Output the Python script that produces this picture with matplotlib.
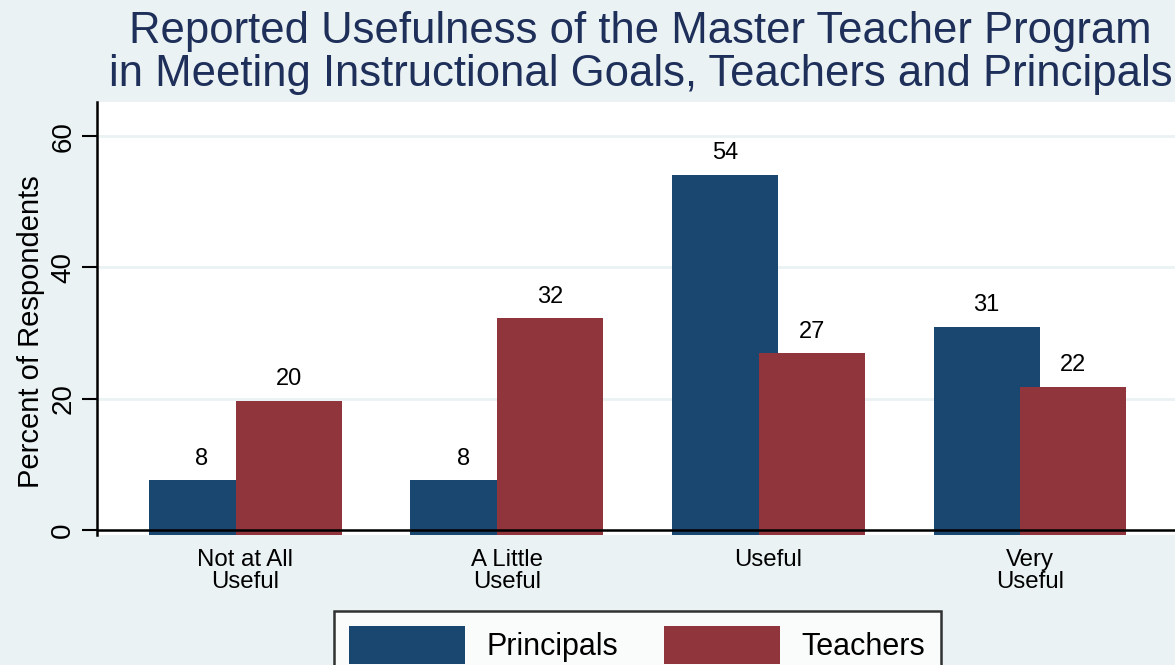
import numpy as np
import matplotlib
matplotlib.use("Agg")
import matplotlib.pyplot as plt

categories = ["Not at All\nUseful", "A Little\nUseful", "Useful", "Very\nUseful"]
principals = [7.6, 7.6, 54.1, 31.0]
teachers = [19.7, 32.3, 26.9, 21.8]
series_names = ["Principals", "Teachers"]
yticks = [0, 20, 40, 60]

navy = "#1a476f"
maroon = "#90353b"
bg = "#eaf2f3"

plt.rcParams["font.family"] = ["Liberation Sans", "DejaVu Sans"]

fig = plt.figure(figsize=(11.75, 6.65), dpi=100, facecolor=bg)
ax = fig.add_axes([97 / 1175, 1 - 535 / 665, 1 - 97 / 1175, (535 - 102) / 665])
ax.set_facecolor("white")

ymin, ymax = -0.75, 65.2
x = np.arange(len(categories))
w = 0.405
off = 0.166

ax.bar(x - off, np.array(principals) - ymin, w, bottom=ymin, color=navy, label=series_names[0], zorder=2)
ax.bar(x + off, np.array(teachers) - ymin, w, bottom=ymin, color=maroon, label=series_names[1], zorder=3)

# value labels above bars
for xi, v in zip(x - off, principals):
    ax.text(xi, v + 1.6, f"{v:.0f}", ha="center", va="bottom", fontsize=17, zorder=4)
for xi, v in zip(x + off, teachers):
    ax.text(xi, v + 1.6, f"{v:.0f}", ha="center", va="bottom", fontsize=17, zorder=4)

ax.set_xlim(-0.566, 3.554)
ax.set_ylim(ymin, ymax)
ax.set_yticks(yticks)
ax.set_yticklabels([str(t) for t in yticks], rotation=90, va="center", fontsize=20)
ax.grid(axis="y", color=bg, linewidth=2, zorder=0)
ax.axhline(0, color="black", linewidth=1.8, zorder=5)

ax.set_xticks(x)
ax.set_xticklabels(categories, fontsize=17.3, linespacing=1.0)
ax.tick_params(axis="x", length=0, pad=10)
ax.tick_params(axis="y", length=11, width=1.5, pad=4)

for s in ["top", "right", "bottom"]:
    ax.spines[s].set_visible(False)
ax.spines["left"].set_linewidth(1.8)

ax.set_ylabel("Percent of Respondents", fontsize=21)
ax.yaxis.set_label_coords(-0.0485, 0.47)

fig.suptitle("Reported Usefulness of the Master Teacher Program\nin Meeting Instructional Goals, Teachers and Principals",
             fontsize=31.4, color="#1e2f5a", x=0.545, y=1 - 11 / 665, va="top", linespacing=1.07)

leg = fig.legend(loc="upper center", bbox_to_anchor=(0.5425, 1 - 611 / 665), ncol=2, fontsize=22,
                 frameon=True, fancybox=False, edgecolor="black", facecolor="white",
                 handlelength=3.8, handleheight=1.5, handletextpad=0.7, columnspacing=1.5,
                 borderpad=0.5, borderaxespad=0)
leg.get_frame().set_linewidth(1.8)

fig.savefig("out.png", dpi=100, facecolor=bg)
